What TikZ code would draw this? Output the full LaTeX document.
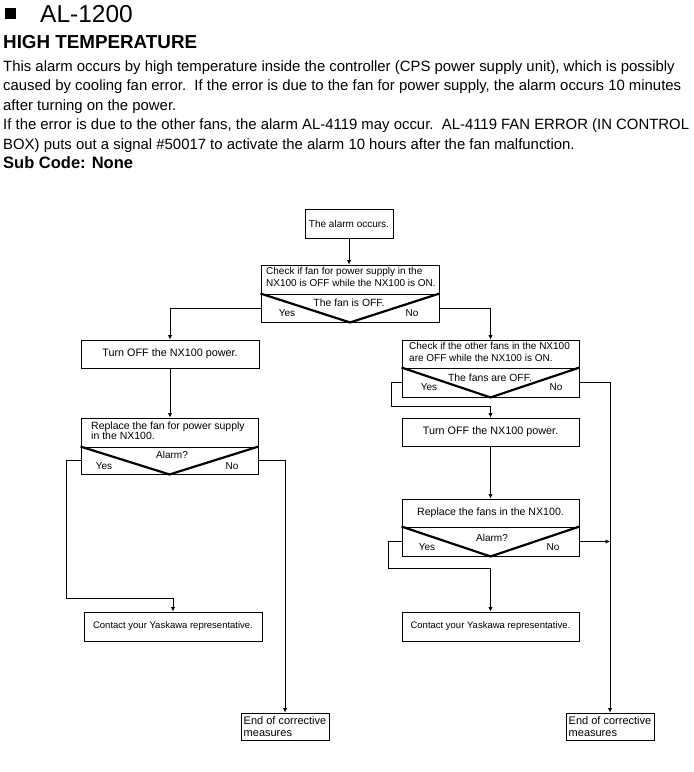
\documentclass[tikz,border=0pt]{standalone}
\usepackage{fontspec}
\setmainfont{Liberation Sans}
\usetikzlibrary{arrows.meta,calc}
\newcommand\diagfont{\fontsize{10}{12}\selectfont}
\newcommand\bodyfont{\fontsize{14.9}{19.5}\selectfont}
\tikzset{
  box/.style={draw, line width=0.9pt, inner sep=0pt, font=\diagfont},
  ltext/.style={align=left, font=\diagfont, inner sep=0pt},
  lbl/.style={font=\diagfont, inner sep=0pt},
  vee/.style={line width=2.2pt},
  arr/.style={-{Latex[length=4.5pt,width=4.5pt]}},
  con/.style={line width=0.9pt},
  body/.style={anchor=base west, inner sep=0pt, font=\bodyfont},
  fsz/.style={font=\fontsize{#1}{11.2}\selectfont},
  endbox/.style={box, fsz=11, minimum width=88pt, minimum height=27pt, align=left},
}
\begin{document}
\begin{tikzpicture}[x=1pt,y=-1pt]
\useasboundingbox (0,0) rectangle (694,772);
% header
\fill (5,8) rectangle (16,19);
\node[anchor=base west, inner sep=0pt, font=\fontsize{24.5}{28}\selectfont] (title) at (40,22) {AL-1200};
\node[anchor=base west, inner sep=0pt, font=\fontsize{18.8}{22}\selectfont\bfseries] (head) at (3,48.5) {HIGH TEMPERATURE};
\node[body] (l1) at (3,71) {This alarm occurs by high temperature inside the controller (CPS power supply unit), which is possibly};
\node[body] (l2) at (3,90.5) {caused by cooling fan error.\ \ If the error is due to the fan for power supply, the alarm occurs 10 minutes};
\node[body] (l3) at (3,110) {after turning on the power.};
\node[body] (l4) at (3,129.5) {If the error is due to the other fans, the alarm AL-4119 may occur.\ \ AL-4119 FAN ERROR (IN CONTROL};
\node[body] (l5) at (3,149) {BOX) puts out a signal \#50017 to activate the alarm 10 hours after the fan malfunction.};
\node[body, font=\fontsize{16.5}{19}\selectfont\bfseries] (sub) at (3,168.5) {Sub Code: None};

% ---------- flowchart ----------
\node[box, minimum width=88pt, minimum height=29pt] (start) at (349,223.5) {The alarm occurs.};

% decision 1
\node[box, minimum width=178pt, minimum height=29pt] (d1t) at (350,279.5) {};
\node[box, minimum width=178pt, minimum height=28pt] (d1b) at (350,308) {};
\node[ltext, anchor=north west] (d1txt) at (266,267) {Check if fan for power supply in the\\NX100 is OFF while the NX100 is ON.};
\draw[vee] (d1b.north west) -- (d1b.south) -- (d1b.north east);
\node[lbl, fsz=10.4] (d1q) at (349,302.5) {The fan is OFF.};
\node[lbl] (d1y) at (287,313) {Yes};
\node[lbl] (d1n) at (412,313) {No};

% left branch
\node[box, fsz=10.8, minimum width=178pt, minimum height=28pt] (off1) at (170,354) {Turn OFF the NX100 power.};
\node[box, minimum width=177pt, minimum height=29pt] (r1t) at (169.5,432.5) {};
\node[ltext, font=\fontsize{10.5}{10.5}\selectfont, anchor=north west] (r1txt) at (91,421.5) {Replace the fan for power supply\\in the NX100.};
\node[box, minimum width=177pt, minimum height=27pt] (r1b) at (169.5,460.5) {};
\draw[vee] (r1b.north west) -- (r1b.south) -- (r1b.north east);
\node[lbl] (r1q) at (172,455) {Alarm?};
\node[lbl] (r1y) at (104,466) {Yes};
\node[lbl] (r1n) at (232,466) {No};
\node[box, fsz=9.5, minimum width=178pt, minimum height=29pt] (con1) at (173,626.5) {Contact your Yaskawa representative.};
\node[endbox] (end1) at (285,726.5) {End of corrective\\measures};

% right branch
\node[box, minimum width=177pt, minimum height=28pt] (d2t) at (490.5,354) {};
\node[ltext, anchor=north west] (d2txt) at (409,342.5) {Check if the other fans in the NX100\\are OFF while the NX100 is ON.};
\node[box, minimum width=177pt, minimum height=29pt] (d2b) at (490.5,382.5) {};
\draw[vee] (d2b.north west) -- (d2b.south) -- (d2b.north east);
\node[lbl, fsz=10.4] (d2q) at (490,377.5) {The fans are OFF.};
\node[lbl] (d2y) at (429,387.5) {Yes};
\node[lbl] (d2n) at (556,387.5) {No};
\node[box, fsz=10.8, minimum width=177pt, minimum height=28pt] (off2) at (490.5,432) {Turn OFF the NX100 power.};
\node[box, fsz=10.6, minimum width=177pt, minimum height=28pt] (r2t) at (490.5,513) {Replace the fans in the NX100.};
\node[box, minimum width=177pt, minimum height=29pt] (r2b) at (490.5,541.5) {};
\draw[vee] (r2b.north west) -- (r2b.south) -- (r2b.north east);
\node[lbl] (r2q) at (492,537.5) {Alarm?};
\node[lbl] (r2y) at (427,547.5) {Yes};
\node[lbl] (r2n) at (553,547.5) {No};
\node[box, fsz=9.5, minimum width=177pt, minimum height=29pt] (con2) at (490.5,626.5) {Contact your Yaskawa representative.};
\node[endbox] (end2) at (610,726.5) {End of corrective\\measures};

% connectors
\draw[con, arr] (start.south) -- (start.south |- d1t.north);
\draw[con, arr] (d1b.west) -| (off1.north);
\draw[con, arr] (d1b.east) -| (d2t.north);
\draw[con, arr] (off1.south) -- (off1.south |- r1t.north);
\draw[con, arr] (r1b.west) -- ++(-14,0) |- ($(con1.north)+(0,-13)$) -- (con1.north);
\draw[con, arr] (r1b.east) -| (end1.north);
\draw[con, arr] (d2b.west) -- ++(-10,0) |- ($(off2.north)+(0,-11)$) -- (off2.north);
\coordinate (merge) at (end2.north |- r2b.east);
\draw[con, arr] (d2b.east) -| (end2.north);
\draw[con, arr] (off2.south) -- (r2t.north);
\draw[con, arr] (r2b.west) -- ++(-13,0) |- ($(con2.north)+(0,-43)$) -- (con2.north);
\draw[con, arr] (r2b.east) -- (merge);
\end{tikzpicture}
\end{document}
